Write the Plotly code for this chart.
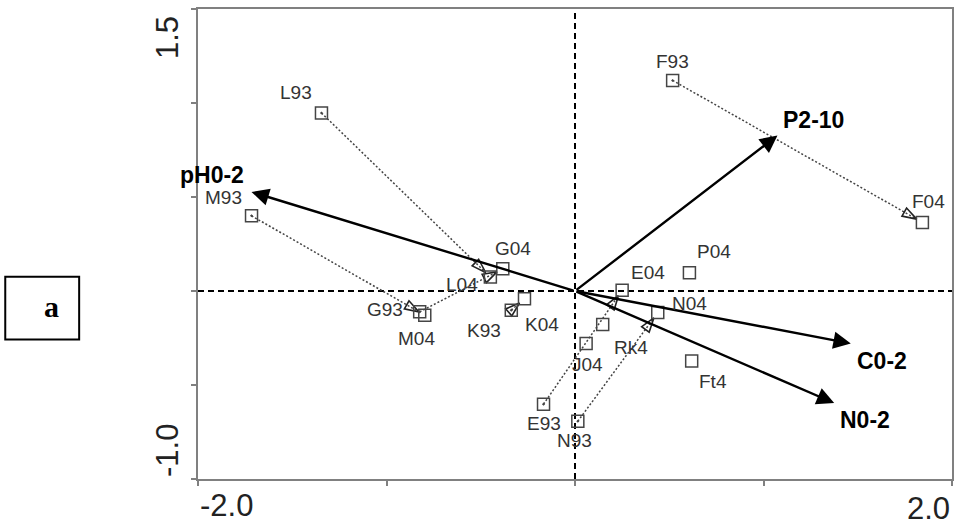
import numpy as np
import plotly.graph_objects as go

# ---------------- data ----------------
x_range = [-2.0, 2.0]
y_range = [-1.0, 1.5]
x_ticks = [-2.0, -1.0, 0.0, 1.0, 2.0]
y_ticks = [-1.0, -0.5, 0.0, 0.5, 1.0, 1.5]
x_tick_labels = ["-2.0", "2.0"]
y_tick_labels = ["-1.0", "1.5"]

# paired samples: 1993 -> 2004
pair_sites = ["L", "M", "G", "K", "E", "N", "F"]
x93 = [-1.345, -1.716, -0.824, -0.338, -0.167, 0.015, 0.518]
y93 = [0.947, 0.400, -0.111, -0.102, -0.602, -0.693, 1.120]
x04 = [-0.449, -0.797, -0.383, -0.268, 0.250, 0.439, 1.843]
y04 = [0.074, -0.129, 0.118, -0.041, 0.004, -0.115, 0.365]
labels93 = ["L93", "M93", "G93", "K93", "E93", "N93", "F93"]
labels04 = ["L04", "M04", "G04", "K04", "E04", "N04", "F04"]

# single samples
single_labels = ["P04", "Ft4", "Rk4", "J04"]
single_x = [0.607, 0.619, 0.147, 0.059]
single_y = [0.097, -0.372, -0.178, -0.279]

# environmental vectors
env_labels = ["pH0-2", "P2-10", "C0-2", "N0-2"]
env_x = [-1.716, 1.074, 1.463, 1.375]
env_y = [0.527, 0.827, -0.279, -0.596]

panel_label = "a"

# ---------------- label offsets (pixels) ----------------
label_shift = {
    "L93": (-25, 20), "M93": (-28, 18), "F93": (0, 19), "F04": (6, 21),
    "G04": (10, 20), "L04": (-28, -7), "G93": (-35, 2), "M04": (-8, -23),
    "K93": (-27, -20), "K04": (18, -26), "E04": (26, 18), "P04": (25, 21),
    "N04": (32, 9), "Rk4": (28, -23), "J04": (1, -21), "E93": (0, -19),
    "N93": (-3, -19), "Ft4": (21, -21),
    "pH0-2": (-40, 17), "P2-10": (36, 16), "C0-2": (31, -18), "N0-2": (31, -17),
}

W, H = 961, 528
ML, MR, MT, MB = 198, 8, 7, 49

fig = go.Figure()

SQ_COLOR = "#454545"
LABEL_COLOR = "#333333"
FONT = "Liberation Sans, Arial, sans-serif"

# dotted trajectories with open arrowheads pointing to the 2004 sample
back = 0.035
for i, s in enumerate(pair_sites):
    dx = x04[i] - x93[i]
    dy = y04[i] - y93[i]
    d = np.hypot(dx, dy)
    tx = x04[i] - back * dx / d
    ty = y04[i] - back * dy / d
    ang = float(np.degrees(np.arctan2(dx, dy)))  # clockwise from up (equal axis scale)
    fig.add_trace(go.Scatter(
        x=[x93[i], tx], y=[y93[i], ty], mode="lines",
        line=dict(color="#444444", width=1.5, dash="2px,2px"),
        hoverinfo="skip", showlegend=False,
    ))
    fig.add_trace(go.Scatter(
        x=[tx], y=[ty], mode="markers",
        marker=dict(symbol="arrow-open", size=15, angle=ang,
                    color="#222222", line=dict(width=1.6, color="#222222")),
        hoverinfo="skip", showlegend=False,
    ))

# squares: 1993 (with dot) and 2004 / singles (plain)
fig.add_trace(go.Scatter(
    x=x93, y=y93, mode="markers",
    marker=dict(symbol="square-open-dot", size=12, color=SQ_COLOR, line=dict(width=1.5, color=SQ_COLOR)),
    text=labels93, hoverinfo="text", showlegend=False,
))
fig.add_trace(go.Scatter(
    x=x04 + single_x, y=y04 + single_y, mode="markers",
    marker=dict(symbol="square-open", size=12, color=SQ_COLOR, line=dict(width=1.5, color=SQ_COLOR)),
    text=labels04 + single_labels, hoverinfo="text", showlegend=False,
))

annotations = []
# environmental arrows
for lab, ex, ey in zip(env_labels, env_x, env_y):
    annotations.append(dict(
        x=ex, y=ey, ax=0, ay=0, xref="x", yref="y", axref="x", ayref="y",
        showarrow=True, arrowhead=2, arrowsize=1.45, arrowwidth=2.4,
        arrowcolor="black", standoff=0, text="",
    ))
    sx, sy = label_shift[lab]
    annotations.append(dict(
        x=ex, y=ey, xref="x", yref="y", text="<b>" + lab + "</b>", showarrow=False,
        xshift=sx, yshift=sy, font=dict(family=FONT, size=23, color="black"),
    ))

# sample labels
for lab, px, py in zip(labels93 + labels04 + single_labels,
                       x93 + x04 + single_x, y93 + y04 + single_y):
    sx, sy = label_shift[lab]
    annotations.append(dict(
        x=px, y=py, xref="x", yref="y", text=lab, showarrow=False,
        xshift=sx, yshift=sy, font=dict(family=FONT, size=19, color=LABEL_COLOR),
    ))

# edge tick labels
TICK_FONT = dict(family=FONT, size=31, color="#222222")
annotations.append(dict(x=x_range[0], y=0, xref="x", yref="paper", text=x_tick_labels[0],
                        showarrow=False, xanchor="left", yanchor="top", yshift=-7, font=TICK_FONT))
annotations.append(dict(x=x_range[1], y=0, xref="x", yref="paper", text=x_tick_labels[1],
                        showarrow=False, xanchor="right", yanchor="top", yshift=-10, font=TICK_FONT))
annotations.append(dict(x=0, y=y_range[0], xref="paper", yref="y", text=y_tick_labels[0],
                        showarrow=False, xanchor="right", yanchor="bottom", xshift=-11,
                        textangle=-90, font=TICK_FONT))
annotations.append(dict(x=0, y=y_range[1], xref="paper", yref="y", text=y_tick_labels[1],
                        showarrow=False, xanchor="right", yanchor="top", xshift=-11, yshift=-5,
                        textangle=-90, font=TICK_FONT))

# panel label "a"
pw, ph = W - ML - MR, H - MT - MB
def px2paper_x(p):
    return (p - ML) / pw
def px2paper_y(p):
    return (H - MB - p) / ph

annotations.append(dict(x=px2paper_x(42), y=px2paper_y(306), xref="paper", yref="paper",
                        text="<b>" + panel_label + "</b>", showarrow=False,
                        font=dict(family="Liberation Serif, Times New Roman, serif", size=30, color="black")))

shapes = [
    dict(type="line", xref="x", yref="y", x0=0, x1=0, y0=y_range[0], y1=y_range[1],
         line=dict(color="black", width=2, dash="6px,4px"), layer="below"),
    dict(type="line", xref="x", yref="y", x0=x_range[0], x1=x_range[1], y0=0, y1=0,
         line=dict(color="black", width=2, dash="6px,4px"), layer="below"),
    dict(type="rect", xref="paper", yref="paper",
         x0=px2paper_x(5), x1=px2paper_x(79), y0=px2paper_y(339), y1=px2paper_y(276),
         line=dict(color="black", width=2)),
]

axis_common = dict(showgrid=False, zeroline=False, showline=True, linecolor="#808080",
                   linewidth=2, mirror=True, ticks="outside", ticklen=5, tickwidth=1.5,
                   tickcolor="#808080", showticklabels=False)
inner_ticks = dict(showgrid=False, zeroline=False, showline=False, ticks="inside", ticklen=4,
                   tickwidth=1.5, tickcolor="#808080", showticklabels=False)

fig.update_layout(
    width=W, height=H, margin=dict(l=ML, r=MR, t=MT, b=MB, pad=0),
    paper_bgcolor="white", plot_bgcolor="white",
    xaxis=dict(range=x_range, tickvals=x_ticks, **axis_common),
    yaxis=dict(range=y_range, tickvals=y_ticks, **axis_common),
    xaxis2=dict(range=x_range, tickvals=x_ticks, overlaying="x", side="bottom", **inner_ticks),
    yaxis2=dict(range=y_range, tickvals=y_ticks, overlaying="y", side="left", **inner_ticks),
    annotations=annotations, shapes=shapes,
)

fig.write_html("out.html")
